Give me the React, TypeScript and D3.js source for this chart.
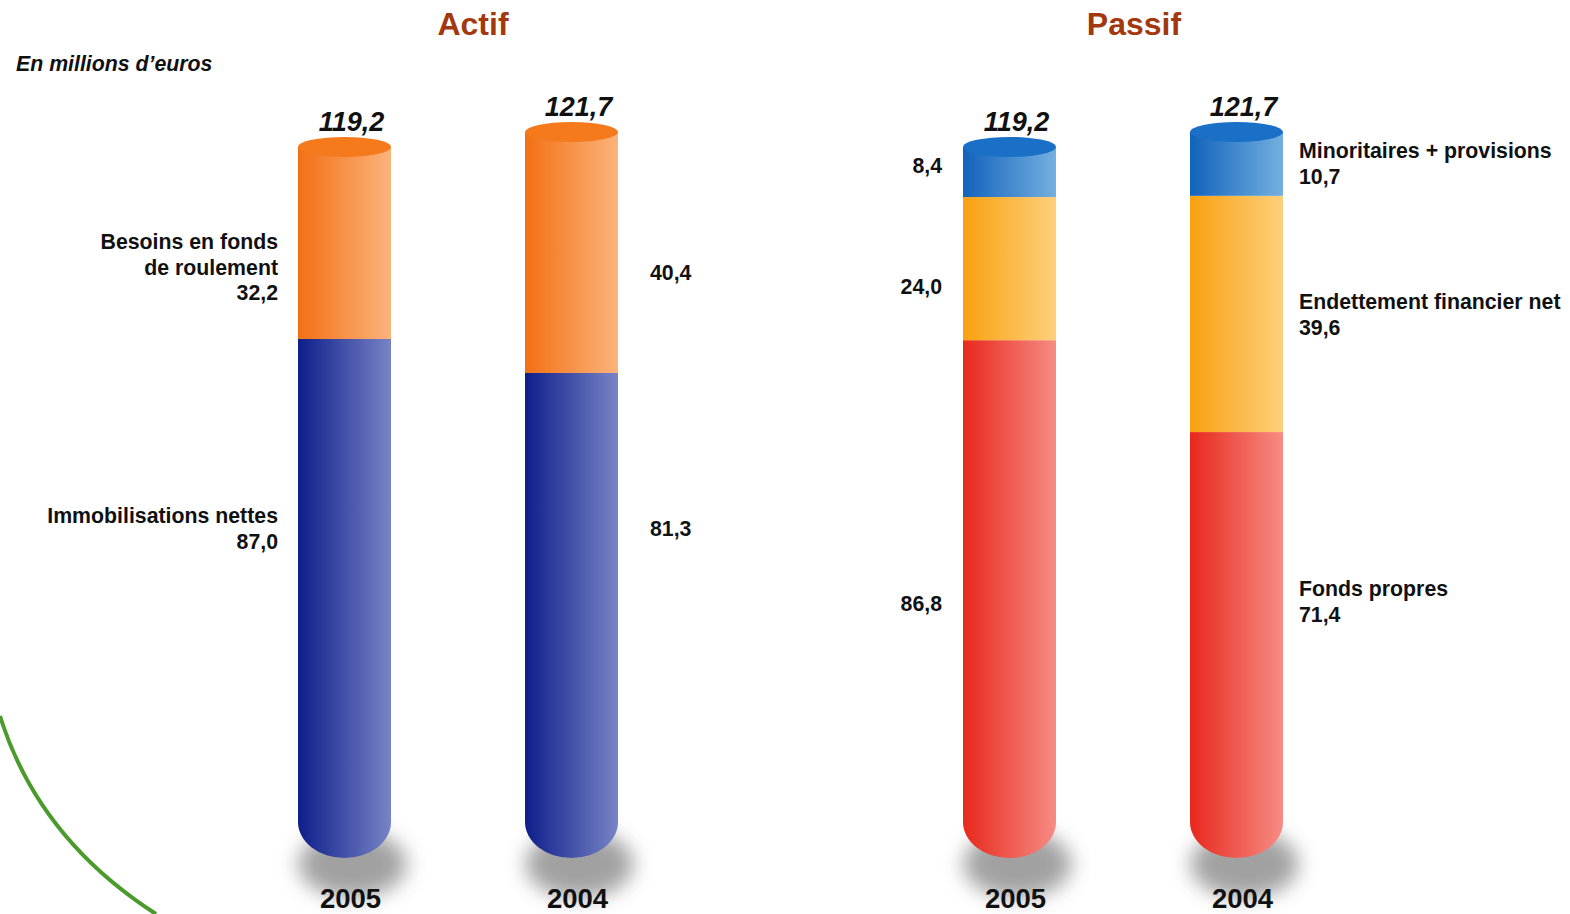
import React from "react";
import * as d3 from "d3";

// Balance sheet, in millions of euros
const years = ["2005", "2004"];

const actifCategories = ["Immobilisations nettes", "Besoins en fonds de roulement"];
const actif2005 = [87.0, 32.2];
const actif2004 = [81.3, 40.4];
const actifTotals = ["119,2", "121,7"];

const passifCategories = ["Fonds propres", "Endettement financier net", "Minoritaires + provisions"];
const passif2005 = [86.8, 24.0, 8.4];
const passif2004 = [71.4, 39.6, 10.7];
const passifTotals = ["119,2", "121,7"];

const fmt = (v: number) => v.toFixed(1).replace(".", ",");

const W = 1570;
const H = 914;
const BASE_Y = 858;
const TOP_Y = 132;
const MAX_TOTAL = 121.7;
const RX = 46.5;
const TOP_RY = 10;
const CAP_RY = 36;
const FONT = "'Liberation Sans', Arial, Helvetica, sans-serif";

const y = d3.scaleLinear().domain([0, MAX_TOTAL]).range([BASE_Y, TOP_Y]);
const xActif = d3.scalePoint<string>().domain(years).range([344.5, 571.5]);
const xPassif = d3.scalePoint<string>().domain(years).range([1009.5, 1236.5]);

type Palette = { id: string; left: string; right: string; top: string };
const navy: Palette = { id: "gNavy", left: "#0e1e8a", right: "#7884c6", top: "#1c2c95" };
const orange: Palette = { id: "gOrange", left: "#f36f14", right: "#fbb47c", top: "#f47a1c" };
const sky: Palette = { id: "gSky", left: "#1262bc", right: "#74b0e0", top: "#1a6fc6" };
const amber: Palette = { id: "gAmber", left: "#f9a010", right: "#fdd07c", top: "#f9a51a" };
const red: Palette = { id: "gRed", left: "#e8281c", right: "#f68c84", top: "#ea3a2c" };
const palettes = [navy, orange, sky, amber, red];

type Col = { key: string; cx: number; values: number[]; colors: Palette[]; total: string };

const columns: Col[] = [
  { key: "a5", cx: xActif("2005")!, values: actif2005, colors: [navy, orange], total: actifTotals[0] },
  { key: "a4", cx: xActif("2004")!, values: actif2004, colors: [navy, orange], total: actifTotals[1] },
  { key: "p5", cx: xPassif("2005")!, values: passif2005, colors: [red, amber, sky], total: passifTotals[0] },
  { key: "p4", cx: xPassif("2004")!, values: passif2004, colors: [red, amber, sky], total: passifTotals[1] },
];

function outline(cx: number, yTop: number) {
  const l = cx - RX;
  const r = cx + RX;
  return `M${l},${yTop} L${l},${BASE_Y - CAP_RY} A${RX},${CAP_RY} 0 0 0 ${r},${BASE_Y - CAP_RY} L${r},${yTop} Z`;
}

function Cylinder({ col }: { col: Col }) {
  const sum = d3.sum(col.values);
  const yTop = y(sum);
  let acc = 0;
  const segs = col.values.map((v, i) => {
    const s = { y0: y(acc + v), y1: y(acc), c: col.colors[i] };
    acc += v;
    return s;
  });
  const topColor = col.colors[col.colors.length - 1].top;
  return (
    <g>
      <ellipse cx={col.cx + 8} cy={BASE_Y + 6} rx={54} ry={34} fill="#444" opacity={0.5} filter="url(#soft)" />
      <clipPath id={`clip-${col.key}`}>
        <path d={outline(col.cx, yTop)} />
      </clipPath>
      <g clipPath={`url(#clip-${col.key})`}>
        {segs.map((s, i) => (
          <rect key={i} x={col.cx - RX} y={s.y0} width={RX * 2} height={s.y1 - s.y0 + (i === 0 ? 2 : 0)} fill={`url(#${s.c.id})`} />
        ))}
      </g>
      <ellipse cx={col.cx} cy={yTop} rx={RX} ry={TOP_RY} fill={topColor} />
      <text x={col.cx + 7} y={yTop - TOP_RY - 6} textAnchor="middle" fontFamily={FONT} fontWeight="bold" fontStyle="italic" fontSize={27} fill="#111">
        {col.total}
      </text>
    </g>
  );
}

type Label = { x: number; y: number; anchor: "start" | "end"; lines: string[] };

const LINE = 25.5;
const labels: Label[] = [
  { x: 278, y: 249, anchor: "end", lines: ["Besoins en fonds", "de roulement", fmt(actif2005[1])] },
  { x: 278, y: 523, anchor: "end", lines: [actifCategories[0], fmt(actif2005[0])] },
  { x: 650, y: 280, anchor: "start", lines: [fmt(actif2004[1])] },
  { x: 650, y: 536, anchor: "start", lines: [fmt(actif2004[0])] },
  { x: 942, y: 173, anchor: "end", lines: [fmt(passif2005[2])] },
  { x: 942, y: 294, anchor: "end", lines: [fmt(passif2005[1])] },
  { x: 942, y: 611, anchor: "end", lines: [fmt(passif2005[0])] },
  { x: 1299, y: 158, anchor: "start", lines: [passifCategories[2], fmt(passif2004[2])] },
  { x: 1299, y: 309, anchor: "start", lines: [passifCategories[1], fmt(passif2004[1])] },
  { x: 1299, y: 596, anchor: "start", lines: [passifCategories[0], fmt(passif2004[0])] },
];

export default function App() {
  return (
    <svg width={W} height={H} viewBox={`0 0 ${W} ${H}`} style={{ position: "absolute", left: 0, top: 0, background: "#fff" }}>
      <defs>
        {palettes.map((p) => (
          <linearGradient key={p.id} id={p.id} x1="0" x2="1" y1="0" y2="0">
            <stop offset="0" stopColor={p.left} />
            <stop offset="1" stopColor={p.right} />
          </linearGradient>
        ))}
        <filter id="soft" x="-50%" y="-50%" width="200%" height="200%">
          <feGaussianBlur stdDeviation="10" />
        </filter>
      </defs>

      <path d="M0,716 Q38,838 156,914" fill="none" stroke="#4b9a2c" strokeWidth={4} />

      <text x={473} y={35} textAnchor="middle" fontFamily={FONT} fontWeight="bold" fontSize={32} fill="#a3380f">Actif</text>
      <text x={1134} y={35} textAnchor="middle" fontFamily={FONT} fontWeight="bold" fontSize={32} fill="#a3380f">Passif</text>
      <text x={16} y={71} fontFamily={FONT} fontWeight="bold" fontStyle="italic" fontSize={21.3} fill="#111">En millions d’euros</text>

      {columns.map((c) => (
        <Cylinder key={c.key} col={c} />
      ))}

      {columns.map((c, i) => (
        <text key={`yr-${c.key}`} x={c.cx + 6} y={908} textAnchor="middle" fontFamily={FONT} fontWeight="bold" fontSize={27.5} fill="#111">
          {years[i % 2]}
        </text>
      ))}

      {labels.map((l, i) => (
        <text key={i} x={l.x} y={l.y} textAnchor={l.anchor} fontFamily={FONT} fontWeight="bold" fontSize={21.3} fill="#111">
          {l.lines.map((s, j) => (
            <tspan key={j} x={l.x} dy={j === 0 ? 0 : LINE}>{s}</tspan>
          ))}
        </text>
      ))}
    </svg>
  );
}
